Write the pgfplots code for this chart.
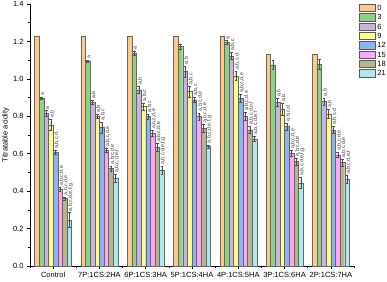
\documentclass[border=0pt]{standalone}
\usepackage{fontspec}
\setmainfont{Liberation Sans}
\usepackage{pgfplots}
\usepackage{pgfplotstable}
\pgfplotsset{compat=1.18}

\definecolor{c0}{RGB}{253,200,140}
\definecolor{c3}{RGB}{140,210,130}
\definecolor{c6}{RGB}{200,180,225}
\definecolor{c9}{RGB}{255,250,140}
\definecolor{c12}{RGB}{140,180,240}
\definecolor{c15}{RGB}{255,165,245}
\definecolor{c18}{RGB}{185,180,140}
\definecolor{c21}{RGB}{170,235,240}

\pgfplotstableread{
x y e l
0 1.230 0 {}
1 1.230 0 {}
2 1.230 0 {}
3 1.230 0 {}
4 1.230 0 {}
5 1.132 0 {}
6 1.132 0 {}
}\tzero
\pgfplotstableread{
x y e l
0 0.895 0.005 a
1 1.095 0.005 a
2 1.137 0.010 a
3 1.173 0.012 {}
4 1.194 0.010 a
5 1.075 0.025 {}
6 1.078 0.025 {}
}\tthree
\pgfplotstableread{
x y e l
0 0.815 0.015 a
1 0.875 0.010 a,b
2 0.941 0.020 a,b
3 1.040 0.030 a,b
4 1.123 0.020 a,b,c
5 0.875 0.020 a,b
6 0.879 0.020 a,b
}\tsix
\pgfplotstableread{
x y e l
0 0.755 0.030 a,b
1 0.800 0.010 a,b
2 0.852 0.020 a,b,c
3 0.932 0.030 a,b,c
4 1.016 0.025 a,b,c,d
5 0.838 0.030 a,b
6 0.813 0.025 a,b
}\tnine
\pgfplotstableread{
x y e l
0 0.610 0.010 a,b,c,d
1 0.740 0.030 a,b,c
2 0.798 0.015 a,b,c
3 0.888 0.015 a,b,c
4 0.897 0.020 a,b,c,d,e
5 0.745 0.020 a,b,c,d
6 0.727 0.020 a,b,c,d
}\ttwelve
\pgfplotstableread{
x y e l
0 0.410 0.010 a,b,c,d,e
1 0.620 0.010 a,b,c,d,e
2 0.710 0.015 a,b,c,d,e
3 0.798 0.020 a,b,c,d,e
4 0.800 0.020 a,b,c,d,e
5 0.603 0.015 a,b,c,d,e
6 0.594 0.015 a,b,c,d,e
}\tfifteen
\pgfplotstableread{
x y e l
0 0.360 0.010 a,b,c,d,e
1 0.520 0.015 a,b,c,d,e
2 0.635 0.020 a,b,c,d,e
3 0.736 0.020 a,b,c,d,e
4 0.727 0.020 a,b,c,d,e,f
5 0.558 0.020 a,b,c,d,e
6 0.552 0.020 a,b,c,d,e
}\teighteen
\pgfplotstableread{
x y e l
0 0.245 0.040 a,b,c,d,e,f,g
1 0.470 0.020 a,b,c,d,e,f
2 0.513 0.020 a,b,c,d,e,f,g
3 0.638 0.010 a,b,c,d,e,f,g
4 0.680 0.015 a,b,c,d,e,f
5 0.445 0.030 a,b,c,d,e,f,g
6 0.464 0.020 a,b,c,d,e,f
}\ttwentyone

\begin{document}
\begin{tikzpicture}
\begin{axis}[
  width=324pt, height=262pt, scale only axis,
  xmin=-0.5, xmax=6.5, ymin=0, ymax=1.4,
  ybar=0pt, bar width=4.63pt,
  xtick={0,...,6},
  xticklabels={Control,7P:1CS:2HA,6P:1CS:3HA,5P:1CS:4HA,4P:1CS:5HA,3P:1CS:6HA,2P:1CS:7HA},
  minor xtick={-0.5,0.5,...,6.5},
  ytick={0,0.2,...,1.4},
  minor ytick={0.1,0.3,...,1.3},
  yticklabel style={/pgf/number format/fixed,/pgf/number format/fixed zerofill,/pgf/number format/precision=1},
  /pgf/number format/assume math mode=true,
  tick align=outside, major tick length=3pt, minor tick length=1.8pt,
  tick style={black, line width=0.6pt},
  axis x line*=bottom, axis y line*=left,
  axis line style={black, line width=0.7pt},
  ylabel={Titratable acidity},
  ylabel style={font=\fontsize{7.5}{8}\selectfont, yshift=-3pt},
  tick label style={font=\fontsize{7.5}{8}\selectfont},
  legend entries={0,3,6,9,12,15,18,21},
  legend cell align=left,
  legend style={at={(1.015,1.0)}, anchor=north west, draw=none, fill=none,
    font=\fontsize{7.5}{8}\selectfont, row sep=1.6pt, inner sep=0pt,
    nodes={inner xsep=1.8pt, inner ysep=0.3pt, text height=5.4pt, text depth=0.5pt},
    /tikz/every even column/.style={column sep=0pt}},
  legend image code/.code={\draw[#1, draw=black!65, line width=0.5pt] (0pt,-3.6pt) rectangle (16pt,3.6pt);},
  clip=false,
  nodes near coords,
  point meta=explicit symbolic,
  visualization depends on={\thisrow{e} \as \err},
  every node near coord/.append style={font=\fontsize{5.2}{5.5}\selectfont, black!80,
     xshift=1.2pt, yshift={\err*187.1pt+1pt}, rotate=90, anchor=west, inner sep=0.4pt, text height=, text depth=},
  error bars/error bar style={line width=0.4pt, black!70},
  error bars/error mark options={rotate=90, mark size=1.4pt, line width=0.4pt, black!70},
]
\coordinate (O) at (rel axis cs:0,0);
\addplot[fill=c0, draw=black!60, line width=0.4pt] table[x=x,y=y,meta=l]{\tzero};
\addplot[fill=c3, draw=black!60, line width=0.4pt, error bars/.cd, y dir=both, y explicit] table[x=x,y=y,y error=e,meta=l]{\tthree};
\addplot[fill=c6, draw=black!60, line width=0.4pt, error bars/.cd, y dir=both, y explicit] table[x=x,y=y,y error=e,meta=l]{\tsix};
\addplot[fill=c9, draw=black!60, line width=0.4pt, error bars/.cd, y dir=both, y explicit] table[x=x,y=y,y error=e,meta=l]{\tnine};
\addplot[fill=c12, draw=black!60, line width=0.4pt, error bars/.cd, y dir=both, y explicit] table[x=x,y=y,y error=e,meta=l]{\ttwelve};
\addplot[fill=c15, draw=black!60, line width=0.4pt, error bars/.cd, y dir=both, y explicit] table[x=x,y=y,y error=e,meta=l]{\tfifteen};
\addplot[fill=c18, draw=black!60, line width=0.4pt, error bars/.cd, y dir=both, y explicit] table[x=x,y=y,y error=e,meta=l]{\teighteen};
\addplot[fill=c21, draw=black!60, line width=0.4pt, error bars/.cd, y dir=both, y explicit] table[x=x,y=y,y error=e,meta=l]{\ttwentyone};
\end{axis}
\pgfresetboundingbox
\path[use as bounding box] (O) ++(-30pt,-15pt) rectangle ++(387pt,281pt);
\end{tikzpicture}
\end{document}
